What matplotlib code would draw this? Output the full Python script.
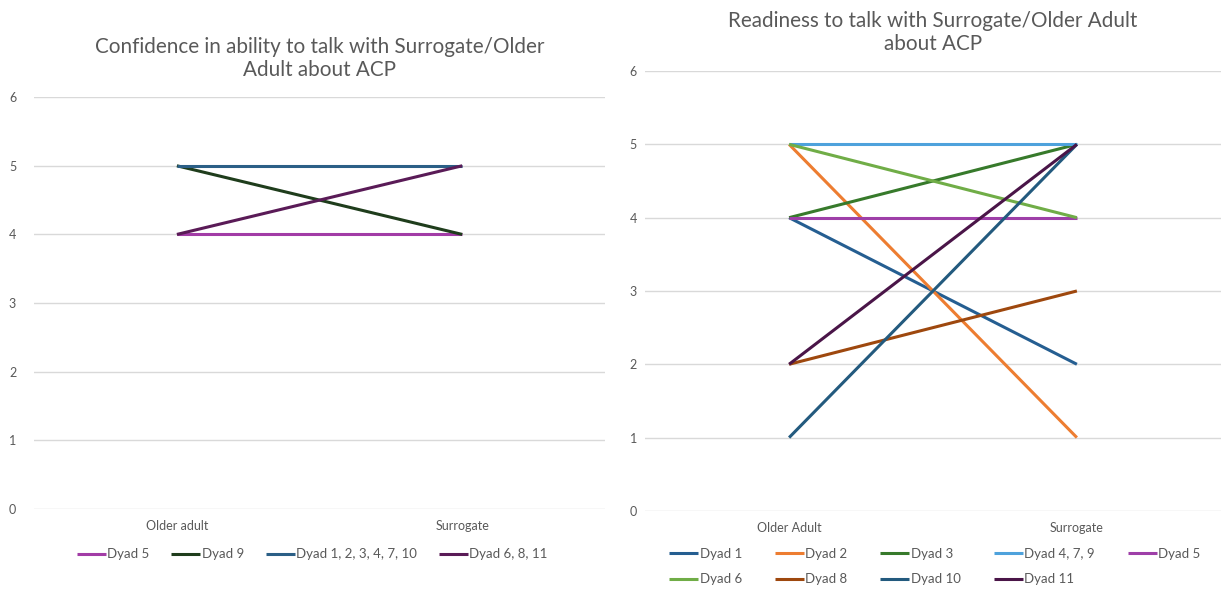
import numpy as np
import matplotlib.pyplot as plt

plt.rcParams['font.family'] = ['Lato', 'DejaVu Sans']

# ── Data ──────────────────────────────────────────────────────────────────────
left_cats = ["Older adult", "Surrogate"]
left_labels = ["Dyad 5", "Dyad 9", "Dyad 1, 2, 3, 4, 7, 10", "Dyad 6, 8, 11"]
left_values = [[4, 4], [5, 4], [5, 5], [4, 5]]
left_colors = ["#A23CA6", "#1F3D1C", "#2B5F86", "#5A1B57"]

right_cats = ["Older Adult", "Surrogate"]
right_labels = ["Dyad 1", "Dyad 2", "Dyad 3", "Dyad 4, 7, 9", "Dyad 5",
                "Dyad 6", "Dyad 8", "Dyad 10", "Dyad 11"]
right_values = [[4, 2], [5, 1], [4, 5], [5, 5], [4, 4],
                [5, 4], [2, 3], [1, 5], [2, 5]]
right_colors = ["#255E91", "#ED7D31", "#377A2B", "#4EA2DC", "#9E3FA8",
                "#70AD47", "#9E480E", "#235A7E", "#4A1548"]

TXT = "#595959"
GRID = "#D9D9D9"

fig = plt.figure(figsize=(12.22, 5.92), dpi=100)
ax1 = fig.add_axes([0.028, 0.140, 0.467, 0.696])
ax2 = fig.add_axes([0.528, 0.137, 0.471, 0.743])


def style(ax, cats, title, ypad):
    x = np.arange(len(cats))
    ax.set_xlim(-0.5, 1.5)
    ax.set_ylim(0, 6)
    ax.set_yticks(range(0, 7))
    ax.set_xticks(x)
    ax.set_xticklabels(cats)
    ax.grid(axis="y", color=GRID, lw=1)
    ax.set_axisbelow(True)
    for s in ax.spines.values():
        s.set_visible(False)
    ax.tick_params(length=0, colors=TXT, labelsize=9)
    ax.tick_params(axis="y", pad=ypad)
    ax.tick_params(axis="x", pad=8)
    ax.set_title(title, color=TXT, fontsize=14.9, pad=15, linespacing=1.2)


x = np.arange(2)
for lab, vals, c in zip(left_labels, left_values, left_colors):
    ax1.plot(x, vals, color=c, lw=2.2, label=lab, solid_capstyle="butt")
style(ax1, left_cats, "Confidence in ability to talk with Surrogate/Older\nAdult about ACP", 13)
ax1.legend(loc="upper center", bbox_to_anchor=(0.487, -0.066), ncol=4, frameon=False,
           fontsize=9.5, handlelength=2.2, handletextpad=0.1, columnspacing=1.65,
           labelcolor=TXT)

for lab, vals, c in zip(right_labels, right_values, right_colors):
    ax2.plot(x, vals, color=c, lw=2.2, label=lab, solid_capstyle="butt")
style(ax2, right_cats, "Readiness to talk with Surrogate/Older Adult\nabout ACP", 6)

# legend fills column-wise; reorder so entries read row by row like the original
h, l = ax2.get_legend_handles_labels()
order = [0, 5, 1, 6, 2, 7, 3, 8, 4]
ax2.legend([h[i] for i in order], [l[i] for i in order],
           loc="upper center", bbox_to_anchor=(0.503, -0.057), ncol=5, frameon=False,
           fontsize=9.5, handlelength=2.2, handletextpad=0.1, columnspacing=2.5,
           labelspacing=1.03, labelcolor=TXT)

fig.savefig("out.png", dpi=100)
